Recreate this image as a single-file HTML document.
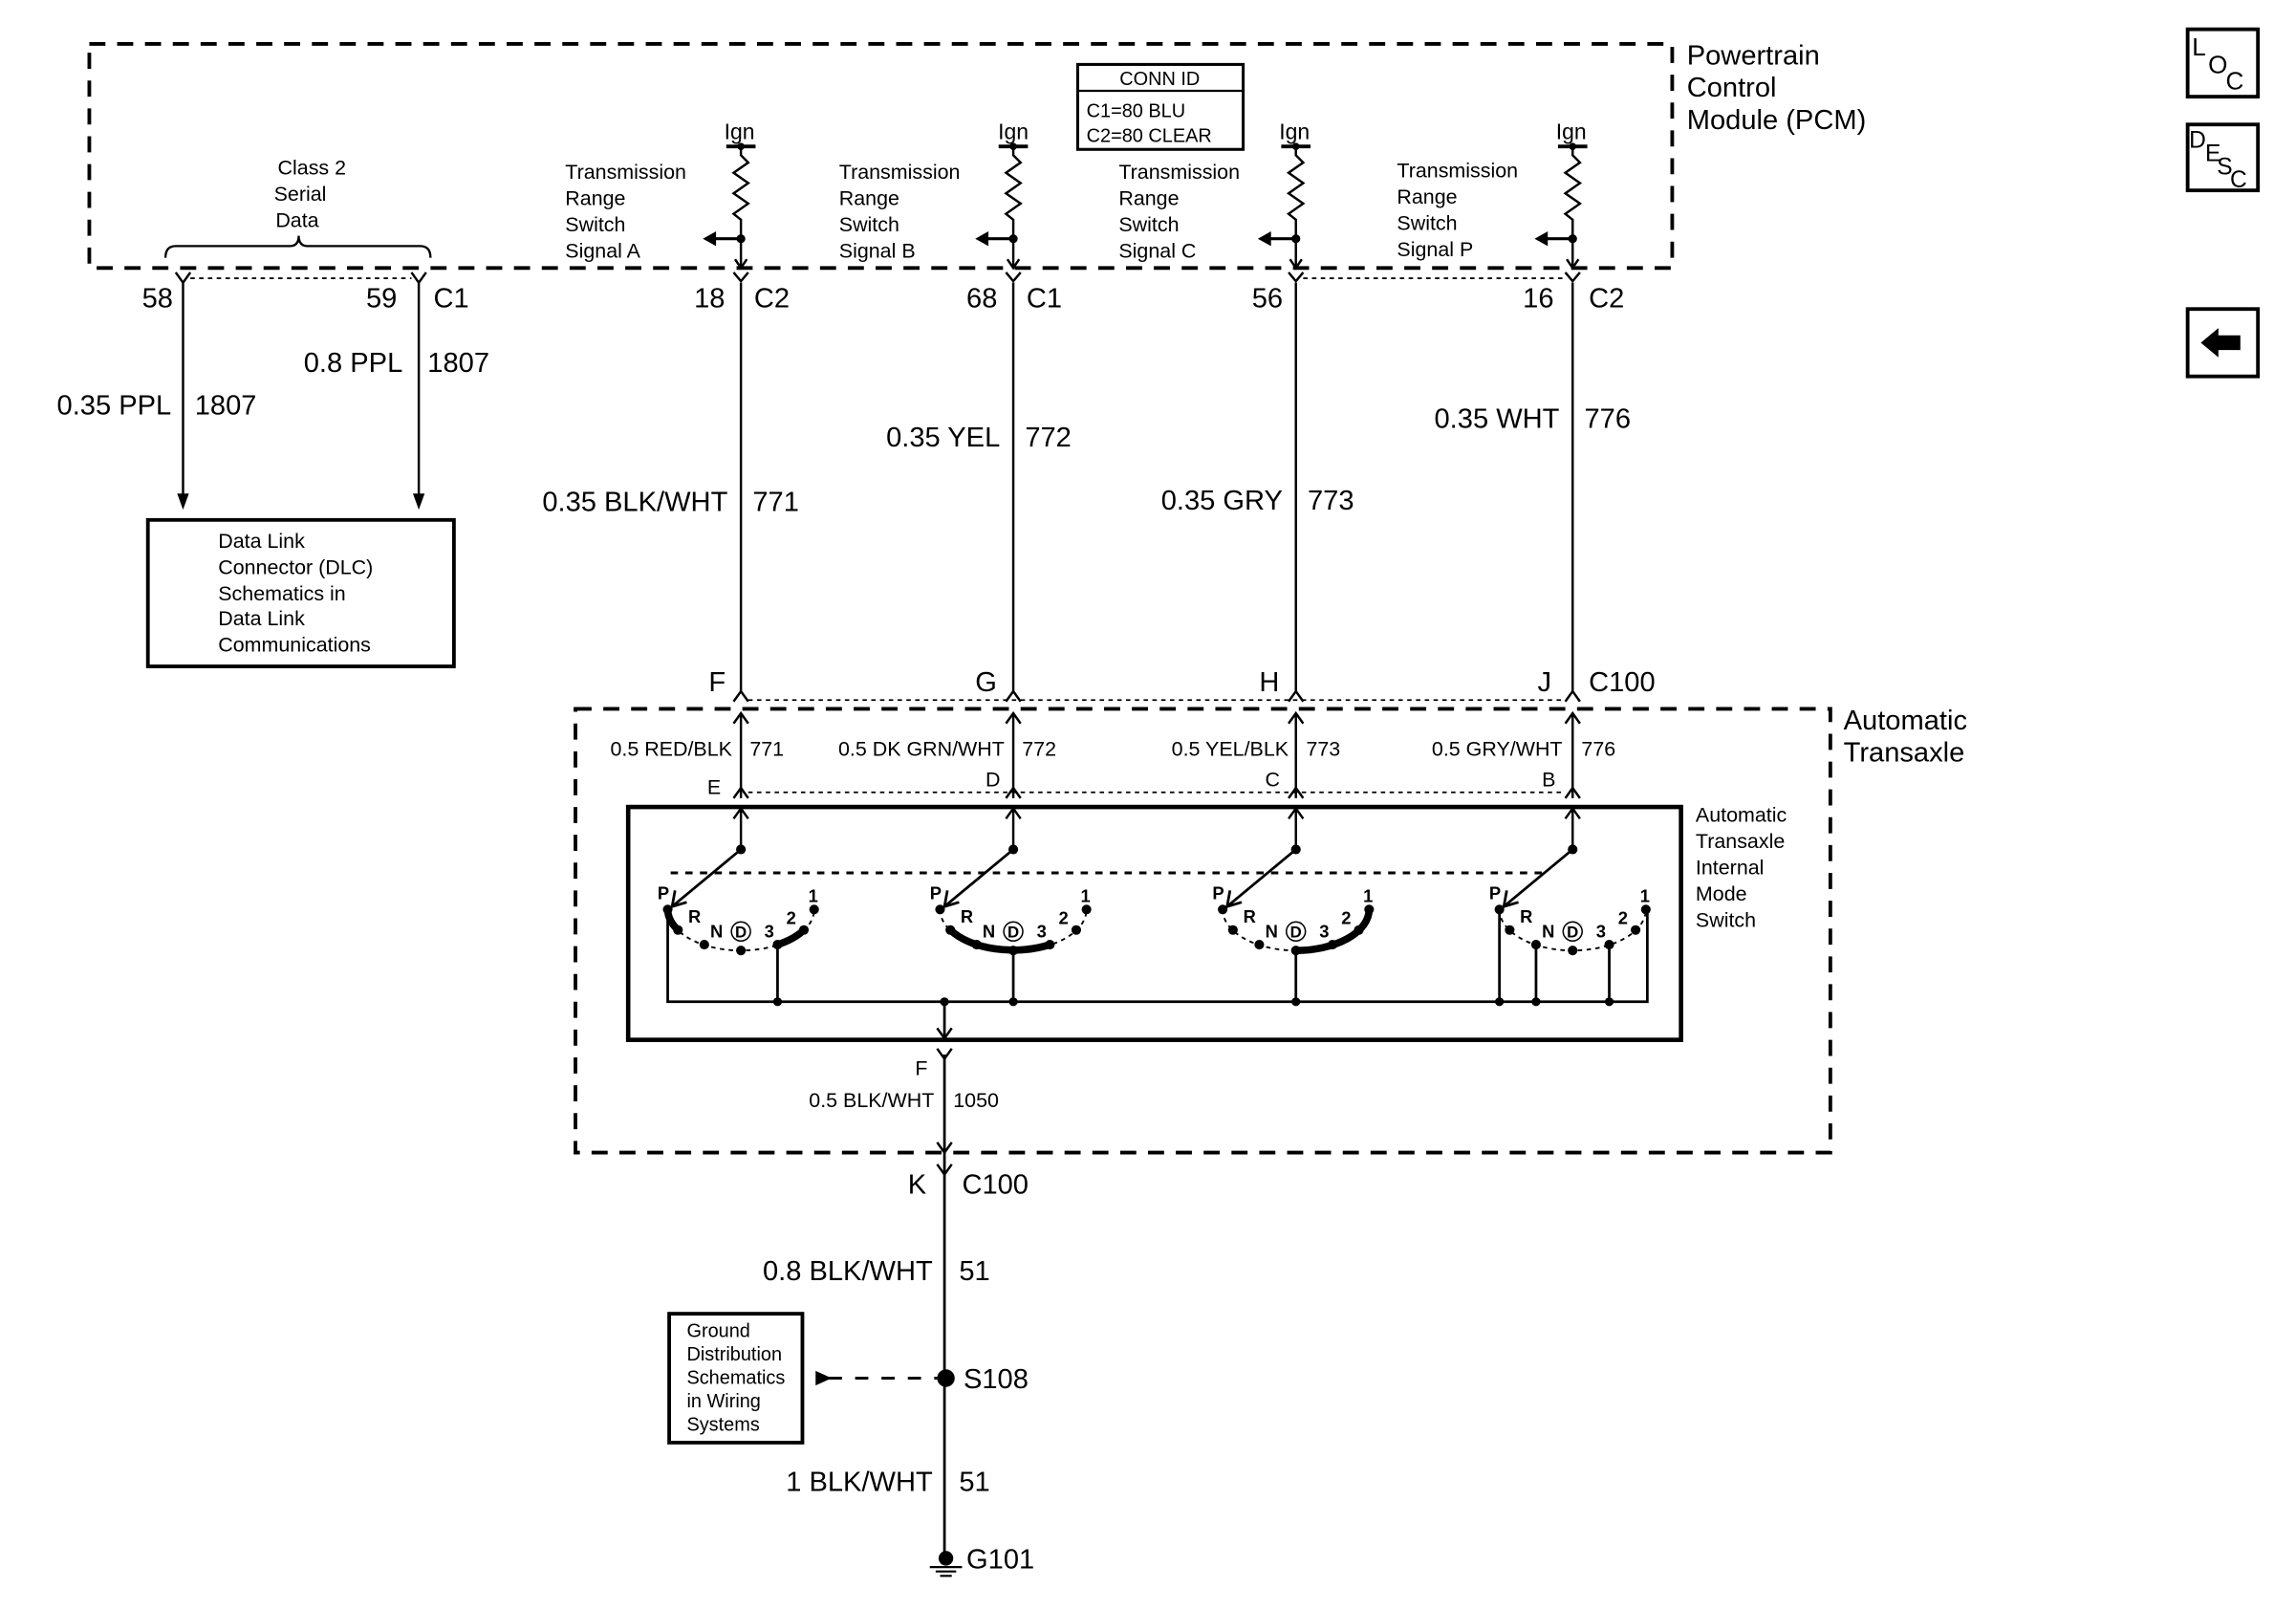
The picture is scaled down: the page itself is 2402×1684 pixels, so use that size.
<!DOCTYPE html>
<html><head><meta charset="utf-8"><style>
html,body{margin:0;padding:0;background:#fff;}
svg{display:block;}
text{font-family:"Liberation Sans",Arial,sans-serif;fill:#000;}
</style></head><body>
<svg width="2402" height="1684" viewBox="0 0 1568 1099.3" preserveAspectRatio="none" xmlns="http://www.w3.org/2000/svg">
<defs>
<g id="ign">
  <line x1="-10" y1="100" x2="10" y2="100" stroke="#000" stroke-width="2.5"/>
  <circle cx="0" cy="100" r="2.5"/>
  <polyline points="0,100 0,106 5,111 -5,118 5,125 -5,132 5,139 -5,146 0,150 0,183" fill="none" stroke="#000" stroke-width="1.6"/>
  <circle cx="0" cy="163" r="3"/>
  <line x1="0" y1="163" x2="-18" y2="163" stroke="#000" stroke-width="2"/>
  <polygon points="-26,163 -17,158 -17,168"/>
  <polyline points="-4,177 0,183 4,177" fill="none" stroke="#000" stroke-width="1.6"/>
  <polyline points="-5,186 0,192 5,186" fill="none" stroke="#000" stroke-width="1.6"/>
</g>
<g id="cup"><polyline points="-5,7 0,0 5,7" fill="none" stroke="#000" stroke-width="1.6"/></g>
<g id="cdn"><polyline points="-5,0 0,7 5,0" fill="none" stroke="#000" stroke-width="1.6"/></g>
<g id="sw">
  <line x1="0" y1="552" x2="0" y2="580" stroke="#000" stroke-width="1.6"/>
  <polyline points="-5,559 0,552 5,559" fill="none" stroke="#000" stroke-width="1.6"/>
  <circle cx="0" cy="580" r="3.3"/>
  <line x1="0" y1="580" x2="-47" y2="619" stroke="#000" stroke-width="1.8"/>
  <polyline points="-45,608 -47,619 -37,616" fill="none" stroke="#000" stroke-width="1.8"/>
  <path d="M-50,621 A50,28 0 0 0 50,621" fill="none" stroke="#000" stroke-width="1.2" stroke-dasharray="3,3"/>
  <circle cx="-50" cy="621" r="3.3"/><circle cx="-43" cy="635" r="3.3"/><circle cx="-25" cy="645" r="3.3"/>
  <circle cx="0" cy="649" r="3.3"/><circle cx="25" cy="645" r="3.3"/><circle cx="43" cy="635" r="3.3"/><circle cx="50" cy="621" r="3.3"/>
  <text x="-57" y="614" font-size="12" font-weight="bold">P</text>
  <text x="-36" y="630" font-size="12" font-weight="bold">R</text>
  <text x="-21" y="640" font-size="12" font-weight="bold">N</text>
  <circle cx="0" cy="636" r="6.5" fill="none" stroke="#000" stroke-width="1"/>
  <text x="-4" y="640" font-size="11" font-weight="bold">D</text>
  <text x="16" y="640" font-size="12" font-weight="bold">3</text>
  <text x="31" y="631" font-size="12" font-weight="bold">2</text>
  <text x="46" y="616" font-size="12" font-weight="bold">1</text>
</g>
</defs>

<rect x="61" y="30" width="1081" height="153" fill="none" stroke="#000" stroke-width="2.5" stroke-dasharray="11,8"/>
<text x="1152" y="44" font-size="19">Powertrain</text>
<text x="1152" y="66" font-size="19">Control</text>
<text x="1152" y="88" font-size="19">Module (PCM)</text>
<rect x="736" y="44" width="113" height="58" fill="none" stroke="#000" stroke-width="2"/>
<line x1="736" y1="62" x2="849" y2="62" stroke="#000" stroke-width="1.5"/>
<text x="792" y="58" font-size="13" text-anchor="middle">CONN ID</text>
<text x="742" y="80" font-size="13">C1=80 BLU</text>
<text x="742" y="97" font-size="13">C2=80 CLEAR</text>

<text x="213" y="119" font-size="14" text-anchor="middle">Class 2</text>
<text x="205" y="137" font-size="14" text-anchor="middle">Serial</text>
<text x="203" y="155" font-size="14" text-anchor="middle">Data</text>
<path d="M113,176 Q113,168 120,168 L198,168 Q204,168 204,161 Q204,168 210,168 L287,168 Q294,168 294,176" fill="none" stroke="#000" stroke-width="1.5"/>

<use href="#ign" x="506"/><use href="#ign" x="692"/><use href="#ign" x="885"/><use href="#ign" x="1074"/>
<g font-size="15">
<text x="505" y="95" text-anchor="middle">Ign</text>
<text x="692" y="95" text-anchor="middle">Ign</text>
<text x="884" y="95" text-anchor="middle">Ign</text>
<text x="1073" y="95" text-anchor="middle">Ign</text>
</g>
<g font-size="14">
<text x="386" y="122">Transmission</text><text x="386" y="140">Range</text><text x="386" y="158">Switch</text><text x="386" y="176">Signal A</text>
<text x="573" y="122">Transmission</text><text x="573" y="140">Range</text><text x="573" y="158">Switch</text><text x="573" y="176">Signal B</text>
<text x="764" y="122">Transmission</text><text x="764" y="140">Range</text><text x="764" y="158">Switch</text><text x="764" y="176">Signal C</text>
<text x="954" y="121">Transmission</text><text x="954" y="139">Range</text><text x="954" y="157">Switch</text><text x="954" y="175">Signal P</text>
</g>

<use href="#cdn" x="125" y="186"/><use href="#cdn" x="286" y="186"/>
<line x1="130" y1="190" x2="281" y2="190" stroke="#000" stroke-width="1.2" stroke-dasharray="3,3"/>
<line x1="890" y1="190" x2="1069" y2="190" stroke="#000" stroke-width="1.2" stroke-dasharray="3,3"/>
<g font-size="19">
<text x="97" y="210">58</text><text x="250" y="210">59</text><text x="296" y="210">C1</text>
<text x="474" y="210">18</text><text x="515" y="210">C2</text>
<text x="660" y="210">68</text><text x="701" y="210">C1</text>
<text x="855" y="210">56</text>
<text x="1040" y="210">16</text><text x="1085" y="210">C2</text>
</g>
<line x1="125" y1="193" x2="125" y2="345" stroke="#000" stroke-width="1.6"/>
<polygon points="125,348 121,337 129,337"/>
<line x1="286" y1="193" x2="286" y2="345" stroke="#000" stroke-width="1.6"/>
<polygon points="286,348 282,337 290,337"/>
<g font-size="19">
<text x="117" y="283" text-anchor="end">0.35 PPL</text><text x="133" y="283">1807</text>
<text x="275" y="254" text-anchor="end">0.8 PPL</text><text x="292" y="254">1807</text>
<text x="497" y="349" text-anchor="end">0.35 BLK/WHT</text><text x="514" y="349">771</text>
<text x="683" y="305" text-anchor="end">0.35 YEL</text><text x="700" y="305">772</text>
<text x="876" y="348" text-anchor="end">0.35 GRY</text><text x="893" y="348">773</text>
<text x="1065" y="292" text-anchor="end">0.35 WHT</text><text x="1082" y="292">776</text>
</g>
<rect x="101" y="355" width="209" height="100" fill="none" stroke="#000" stroke-width="2.5"/>
<g font-size="14">
<text x="149" y="374">Data Link</text><text x="149" y="392">Connector (DLC)</text><text x="149" y="410">Schematics in</text><text x="149" y="427">Data Link</text><text x="149" y="445">Communications</text>
</g>

<g stroke="#000" stroke-width="1.6">
<line x1="506" y1="193" x2="506" y2="472"/><line x1="692" y1="193" x2="692" y2="472"/>
<line x1="885" y1="193" x2="885" y2="472"/><line x1="1074" y1="193" x2="1074" y2="472"/>
</g>
<use href="#cup" x="506" y="472"/><use href="#cup" x="692" y="472"/><use href="#cup" x="885" y="472"/><use href="#cup" x="1074" y="472"/>
<line x1="511" y1="478" x2="1069" y2="478" stroke="#000" stroke-width="1.2" stroke-dasharray="3,3"/>
<g font-size="19">
<text x="484" y="472">F</text><text x="666" y="472">G</text><text x="860" y="472">H</text><text x="1050" y="472">J</text><text x="1085" y="472">C100</text>
</g>

<rect x="393" y="484" width="857" height="303" fill="none" stroke="#000" stroke-width="2.5" stroke-dasharray="11,8"/>
<text x="1259" y="498" font-size="19">Automatic</text>
<text x="1259" y="520" font-size="19">Transaxle</text>
<g stroke="#000" stroke-width="1.6">
<line x1="506" y1="487" x2="506" y2="545"/><line x1="692" y1="487" x2="692" y2="545"/>
<line x1="885" y1="487" x2="885" y2="545"/><line x1="1074" y1="487" x2="1074" y2="545"/>
</g>
<g fill="none" stroke="#000" stroke-width="1.6">
<polyline points="501,494 506,487 511,494"/><polyline points="687,494 692,487 697,494"/>
<polyline points="880,494 885,487 890,494"/><polyline points="1069,494 1074,487 1079,494"/>
</g>
<use href="#cup" x="506" y="538"/><use href="#cup" x="692" y="538"/><use href="#cup" x="885" y="538"/><use href="#cup" x="1074" y="538"/>
<line x1="511" y1="541" x2="1069" y2="541" stroke="#000" stroke-width="1.2" stroke-dasharray="3,3"/>
<g font-size="14">
<text x="500" y="516" text-anchor="end">0.5 RED/BLK</text><text x="512" y="516">771</text>
<text x="686" y="516" text-anchor="end">0.5 DK GRN/WHT</text><text x="698" y="516">772</text>
<text x="880" y="516" text-anchor="end">0.5 YEL/BLK</text><text x="892" y="516">773</text>
<text x="1067" y="516" text-anchor="end">0.5 GRY/WHT</text><text x="1080" y="516">776</text>
<text x="483" y="542">E</text><text x="673" y="537">D</text><text x="864" y="537">C</text><text x="1053" y="537">B</text>
</g>

<rect x="429" y="551" width="719" height="159" fill="none" stroke="#000" stroke-width="3"/>
<g font-size="14">
<text x="1158" y="561">Automatic</text><text x="1158" y="579">Transaxle</text><text x="1158" y="597">Internal</text><text x="1158" y="615">Mode</text><text x="1158" y="633">Switch</text>
</g>
<line x1="458" y1="596" x2="1056" y2="596" stroke="#000" stroke-width="2" stroke-dasharray="5,5"/>
<use href="#sw" x="506"/><use href="#sw" x="692"/><use href="#sw" x="885"/><use href="#sw" x="1074"/>
<g fill="none" stroke="#000" stroke-width="5" stroke-linecap="round">
<path d="M456,621 A50,28 0 0 0 463,635"/>
<path d="M531,645 A50,28 0 0 0 549,635"/>
<path d="M649,635 A50,28 0 0 0 717,645"/>
<path d="M885,649 A50,28 0 0 0 935,621"/>
</g>
<g stroke="#000" stroke-width="1.8" fill="none">
<polyline points="456,621 456,684 1125,684 1125,621"/>
<line x1="531" y1="645" x2="531" y2="684"/>
<line x1="692" y1="649" x2="692" y2="684"/>
<line x1="885" y1="649" x2="885" y2="684"/>
<line x1="1024" y1="621" x2="1024" y2="684"/>
<line x1="1049" y1="645" x2="1049" y2="684"/>
<line x1="1099" y1="645" x2="1099" y2="684"/>
<line x1="645" y1="684" x2="645" y2="708"/>
</g>
<g>
<circle cx="531" cy="684" r="3"/><circle cx="645" cy="684" r="3"/><circle cx="692" cy="684" r="3"/><circle cx="885" cy="684" r="3"/>
<circle cx="1024" cy="684" r="3"/><circle cx="1049" cy="684" r="3"/><circle cx="1099" cy="684" r="3"/>
</g>
<polyline points="640,702 645,709 650,702" fill="none" stroke="#000" stroke-width="1.6"/>
<use href="#cdn" x="645" y="716"/>
<line x1="645" y1="720" x2="645" y2="1060" stroke="#000" stroke-width="1.8"/>
<polyline points="640,780 645,787 650,780" fill="none" stroke="#000" stroke-width="1.6"/>
<use href="#cdn" x="645" y="795"/>
<text x="625" y="734" font-size="14">F</text>
<text x="638" y="756" font-size="14" text-anchor="end">0.5 BLK/WHT</text>
<text x="651" y="756" font-size="14">1050</text>
<g font-size="19">
<text x="620" y="815">K</text><text x="657" y="815">C100</text>
<text x="637" y="874" text-anchor="end">0.8 BLK/WHT</text><text x="655" y="874">51</text>
<text x="658" y="948">S108</text>
<text x="637" y="1018" text-anchor="end">1 BLK/WHT</text><text x="655" y="1018">51</text>
<text x="660" y="1071">G101</text>
</g>
<circle cx="646" cy="941" r="6"/>
<line x1="566" y1="941" x2="640" y2="941" stroke="#000" stroke-width="2" stroke-dasharray="9,9"/>
<polygon points="557,936 557,946 568,941"/>
<rect x="457" y="897" width="91" height="88" fill="none" stroke="#000" stroke-width="2.5"/>
<g font-size="13">
<text x="469" y="913">Ground</text><text x="469" y="929">Distribution</text><text x="469" y="945">Schematics</text><text x="469" y="961">in Wiring</text><text x="469" y="977">Systems</text>
</g>
<circle cx="646" cy="1064" r="5"/>
<g stroke="#000" stroke-width="1.4">
<line x1="635" y1="1070" x2="657" y2="1070"/><line x1="639" y1="1073" x2="653" y2="1073"/><line x1="642" y1="1076" x2="650" y2="1076"/>
</g>

<rect x="1494" y="20" width="48" height="46" fill="none" stroke="#000" stroke-width="2.5"/>
<text x="1497" y="38" font-size="17">L</text><text x="1508" y="50" font-size="17">O</text><text x="1520" y="61" font-size="17">C</text>
<rect x="1494" y="85" width="48" height="45" fill="none" stroke="#000" stroke-width="2.5"/>
<text x="1495" y="101" font-size="16">D</text><text x="1506" y="110" font-size="16">E</text><text x="1514" y="119" font-size="16">S</text><text x="1523" y="128" font-size="16">C</text>
<rect x="1494" y="211" width="48" height="46" fill="none" stroke="#000" stroke-width="2.5"/>
<polygon points="1503,234 1515,224 1515,229 1530,229 1530,239 1515,239 1515,244"/>
</svg>
</body></html>
